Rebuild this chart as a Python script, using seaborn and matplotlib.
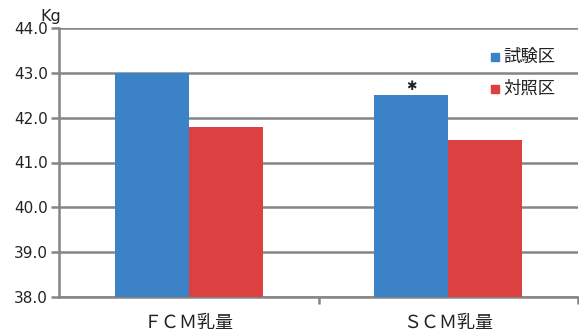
import pandas as pd
import matplotlib
matplotlib.use("Agg")
import matplotlib.pyplot as plt
import seaborn as sns

# data
categories = ["ＦＣＭ乳量", "ＳＣＭ乳量"]
groups = ["試験区", "対照区"]
test_vals = [43.0, 42.5]
ctrl_vals = [41.8, 41.5]
colors = ["#3b82c6", "#dc4040"]

df = pd.DataFrame({
    "cat": categories * 2,
    "group": [groups[0]] * 2 + [groups[1]] * 2,
    "kg": test_vals + ctrl_vals,
})

sns.set_style("white")
plt.rcParams["font.family"] = ["Noto Sans CJK JP", "DejaVu Sans"]

fig = plt.figure(figsize=(5.79, 3.32), dpi=100)
ax = fig.add_axes([59 / 579, 1 - 297 / 332, 519 / 579, (297 - 28) / 332])

sns.barplot(data=df, x="cat", y="kg", hue="group", palette=colors,
            width=0.57, gap=0, saturation=1, linewidth=0, ax=ax,
            legend=False, zorder=3)

ax.set_ylim(38, 44)
ax.set_xlim(-0.5, 1.5)
ax.set_yticks([38, 39, 40, 41, 42, 43, 44])
ax.set_yticklabels([f"{v:.1f}" for v in [38, 39, 40, 41, 42, 43, 44]],
                   fontsize=11, color="#222222", family="DejaVu Sans")
ax.yaxis.grid(True, color="#858585", linewidth=1.8, zorder=0)
ax.set_axisbelow(True)

# boundary ticks on x, labels at centers
ax.set_xticks([0.5, 1.5])
ax.set_xticklabels([])
ax.set_xticks([0, 1], minor=True)
ax.set_xticklabels(categories, minor=True, fontsize=13, color="#222222")
ax.tick_params(axis="x", which="minor", length=0, pad=12)
ax.tick_params(axis="x", which="major", length=5, width=1.8, color="#858585",
               direction="out", bottom=True)
ax.tick_params(axis="y", length=6, width=1.8, color="#858585",
               direction="out", left=True, pad=2)
ax.set_xlabel("")
ax.set_ylabel("")

for s in ["top", "right"]:
    ax.spines[s].set_visible(False)
for s in ["left", "bottom"]:
    ax.spines[s].set_color("#858585")
    ax.spines[s].set_linewidth(1.8)

# unit label and significance mark
fig.text(40 / 579, 1 - 16 / 332, "Kg", fontsize=11.5, color="#222222",
         va="center", ha="left", family="DejaVu Sans")
ax.text(1 - 0.57 / 4, test_vals[1] + 0.06, "✱", ha="center", va="bottom",
        fontsize=9, color="#222222", family="DejaVu Sans")

# legend
for i, (g, c) in enumerate(zip(groups, colors)):
    y = 1 - (57 + 32 * i) / 332
    fig.patches.append(plt.Rectangle((491 / 579, y - 0.013), 8 / 579, 8 / 332,
                                     transform=fig.transFigure, color=c))
    fig.text(503 / 579, y, g, fontsize=12.5, color="#222222", va="center")

fig.savefig("out.png", dpi=100)
